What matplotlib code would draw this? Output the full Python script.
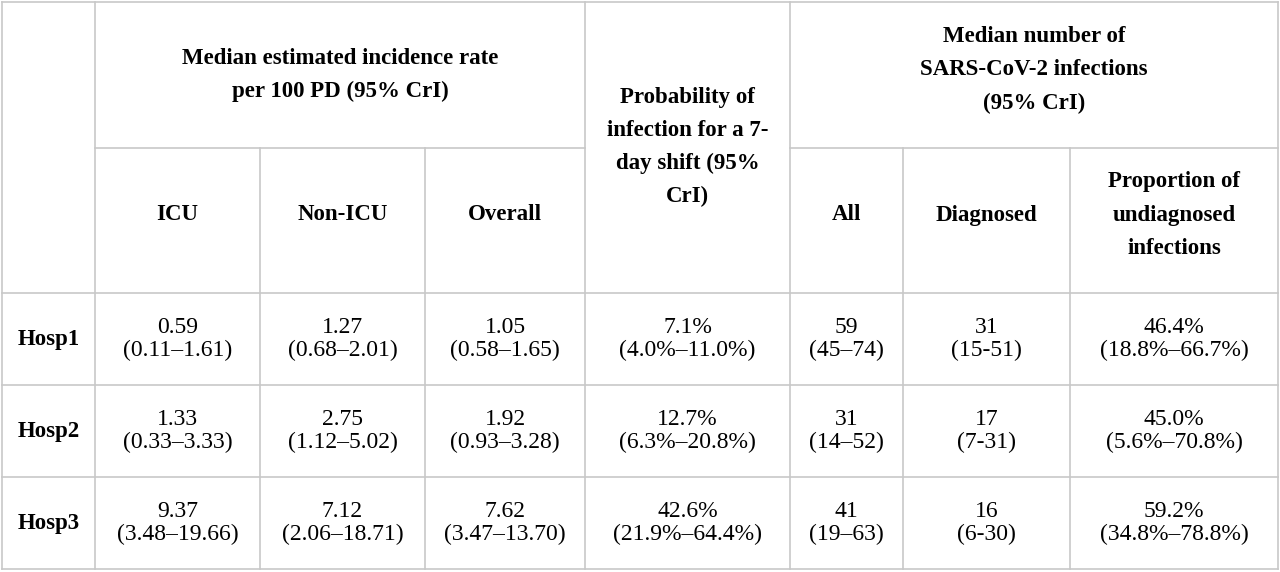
import matplotlib.pyplot as plt
from matplotlib.lines import Line2D

plt.rcParams['font.family'] = ['Liberation Serif', 'DejaVu Serif']

hospitals = ['Hosp1', 'Hosp2', 'Hosp3']
icu = ['0.59\n(0.11–1.61)', '1.33\n(0.33–3.33)', '9.37\n(3.48–19.66)']
non_icu = ['1.27\n(0.68–2.01)', '2.75\n(1.12–5.02)', '7.12\n(2.06–18.71)']
overall = ['1.05\n(0.58–1.65)', '1.92\n(0.93–3.28)', '7.62\n(3.47–13.70)']
prob_7day = ['7.1%\n(4.0%–11.0%)', '12.7%\n(6.3%–20.8%)', '42.6%\n(21.9%–64.4%)']
all_inf = ['59\n(45–74)', '31\n(14–52)', '41\n(19–63)']
diagnosed = ['31\n(15-51)', '17\n(7-31)', '16\n(6-30)']
undiagnosed = ['46.4%\n(18.8%–66.7%)', '45.0%\n(5.6%–70.8%)', '59.2%\n(34.8%–78.8%)']

fig = plt.figure(figsize=(12.8, 5.72), dpi=100)
ax = fig.add_axes([0, 0, 1, 1])
ax.set_xlim(0, 1280)
ax.set_ylim(572, 0)
ax.axis('off')

xs = [2, 95, 260, 425, 585, 790, 903, 1070, 1278]
ys = [2, 148, 293, 385, 477, 569]
lc = '#c8c8c8'

def line(x0, y0, x1, y1):
    ax.add_line(Line2D([x0, x1], [y0, y1], color=lc, lw=1.2))

# outer border and grid
for y in [ys[0], ys[2], ys[3], ys[4], ys[5]]:
    line(xs[0], y, xs[-1], y)
line(xs[1], ys[1], xs[4], ys[1])
line(xs[5], ys[1], xs[8], ys[1])
for i, x in enumerate(xs):
    y0 = ys[1] if i in (2, 3, 6, 7) else ys[0]
    line(x, y0, x, ys[5])

def cx(i):
    return (xs[i] + xs[i + 1]) / 2

hs = 16.5
bold = dict(fontsize=hs, fontweight='bold', ha='center', va='center', linespacing=1.75)
ax.text((xs[1] + xs[4]) / 2, 75, 'Median estimated incidence rate\nper 100 PD (95% CrI)', **bold)
ax.text(cx(4), 147, 'Probability of\ninfection for a 7-\nday shift (95%\nCrI)', **bold)
ax.text((xs[5] + xs[8]) / 2, 70, 'Median number of\nSARS-CoV-2 infections\n(95% CrI)', **bold)
for i, lab in [(1, 'ICU'), (2, 'Non-ICU'), (3, 'Overall'), (5, 'All'), (6, 'Diagnosed'),
               (7, 'Proportion of\nundiagnosed\ninfections')]:
    ax.text(cx(i), 215, lab, **bold)

cols = [icu, non_icu, overall, prob_7day, all_inf, diagnosed, undiagnosed]
for r, h in enumerate(hospitals):
    yc = (ys[r + 2] + ys[r + 3]) / 2
    ax.text(cx(0), yc, h, fontsize=16.5, fontweight='bold', ha='center', va='center')
    for c, col in enumerate(cols):
        ax.text(cx(c + 1), yc, col[r], fontsize=17, ha='center', va='center', linespacing=1.15)

fig.savefig('out.png', dpi=100, facecolor='white')
